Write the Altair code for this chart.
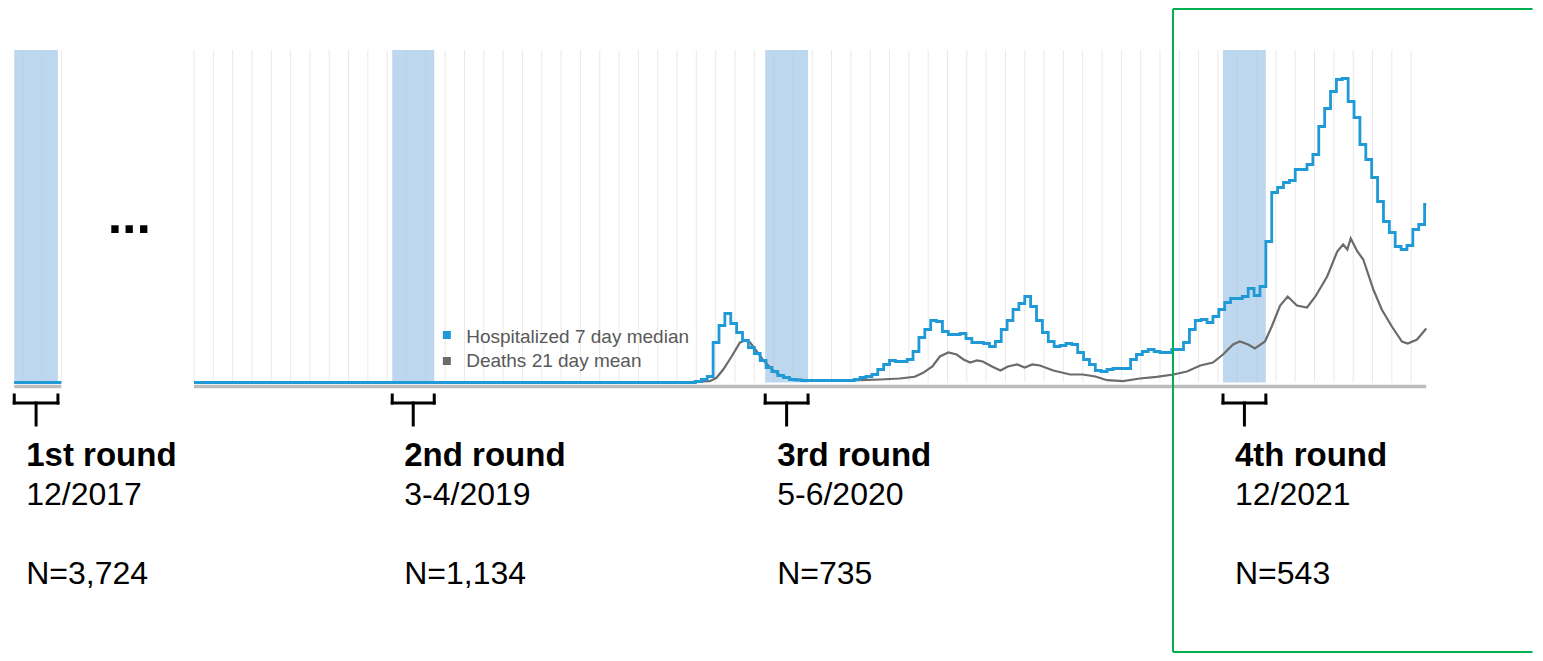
import altair as alt
import pandas as pd

# ---------------- data ----------------
# timeline position in days (main panel starts at day 0; the 2017 inset sits at negative days)
round_names = ["1st round", "2nd round", "3rd round", "4th round"]
round_dates = ["12/2017", "3-4/2019", "5-6/2020", "12/2021"]
round_n = ["N=3,724", "N=1,134", "N=735", "N=543"]
round_start = [-214, 236, 680, 1225]
round_end = [-162, 286, 731, 1276]

inset_grid = [-204, -181, -158]
main_grid = list(range(0, 1450, 23))

# hospitalized, 7 day median (weekly steps), index units
hosp_first_day = 597
hosp_end_day = 1467
hosp_values = [
    1, 3, 6, 40, 57, 69, 59, 50, 42, 35,
    29, 22, 15, 11, 7, 5, 3, 2.5, 2, 2,
    2, 2, 2, 2, 2, 2, 2, 3, 5, 6,
    8, 13, 18, 22, 21, 21, 23, 31, 45, 53,
    62, 61, 51, 48, 48, 49, 44, 40, 40, 39,
    36, 41, 53, 62, 73, 79, 86, 76, 62, 50,
    41, 36, 37, 39, 38, 30, 23, 18, 12, 11,
    13, 14, 14, 14, 23, 28, 31, 33, 31, 30,
    30, 33, 33, 40, 53, 62, 63, 60, 66, 73,
    80, 84, 84, 86, 94, 87, 96, 141, 190, 195,
    200, 202, 213, 213, 218, 228, 256, 274, 291, 303,
    304, 281, 265, 238, 223, 205, 181, 161, 150, 136,
    133, 137, 153, 158, 178,
]

# deaths, 21 day mean
deaths_days = [
    0, 590, 614, 622, 630, 640, 650, 656, 662, 670,
    677, 688, 698, 710, 730, 769, 793, 817, 840, 858,
    868, 879, 888, 898, 908, 916, 924, 932, 939, 950,
    960, 969, 980, 989, 998, 1007, 1023, 1043, 1058, 1073,
    1087, 1106, 1126, 1146, 1166, 1182, 1198, 1213, 1225, 1237,
    1245, 1255, 1263, 1275, 1283, 1293, 1302, 1313, 1325, 1335,
    1349, 1361, 1368, 1373, 1377, 1385, 1392, 1404, 1414, 1426,
    1438, 1445, 1456, 1467,
]
deaths_values = [
    0, 0.5, 1.3, 4.7, 13, 26, 40, 42, 40, 31,
    23, 13, 7, 3.7, 2, 1.7, 2.3, 3, 4, 5.7,
    9.7, 16, 26, 30, 28, 23, 20, 22, 21, 16,
    12, 16, 18, 15, 18, 17, 12, 8, 8, 6,
    2.3, 1.3, 4, 5.7, 8, 11, 17, 20, 28, 38,
    41, 38, 34, 41, 56, 77, 86, 77, 75, 86,
    106, 131, 138, 133, 144, 131, 123, 93, 73, 56,
    41, 39, 43, 54,
]

segment_start = [-214, 0]
segment_end = [-158, 1467]

legend_labels = ["Hospitalized 7 day median", "Deaths 21 day mean"]

# ---------------- styling constants ----------------
BLUE = "#1f9ad6"
GRAY = "#6b6b6b"
BAND = "#bdd7ee"
GREEN = "#00b050"
FONT = "Liberation Sans"
GRID_TOP = 332.5
X_MIN, X_MAX = -221.43, 1596.43
X = alt.Scale(domain=[X_MIN, X_MAX], nice=False, zero=False)
Y = alt.Scale(domain=[-270.5, 374.5], nice=False, zero=False)


def xq(field):
    return alt.X(field, type="quantitative", scale=X, axis=None)


def yq(field):
    return alt.Y(field, type="quantitative", scale=Y, axis=None)


# ---------------- tables ----------------
rounds_df = pd.DataFrame({
    "name": round_names, "date": round_dates, "n": round_n,
    "start": round_start, "end": round_end,
})
rounds_df["bottom"] = 0.0
rounds_df["top"] = GRID_TOP
rounds_df["y_name"] = -83.0
rounds_df["y_date"] = -122.0
rounds_df["y_n"] = -201.5

grid_df = pd.DataFrame({"day": inset_grid + main_grid})
grid_df["bottom"] = 0.0
grid_df["top"] = GRID_TOP

axis_df = pd.DataFrame({"start": segment_start, "end": segment_end})
axis_df["level"] = -4.0

hosp_rows = [("inset", -214, 0.0), ("inset", -158, 0.0), ("main", 0, 0.0)]
for i, v in enumerate(hosp_values):
    hosp_rows.append(("main", hosp_first_day + 7 * i, v))
hosp_rows.append(("main", hosp_end_day, hosp_values[-1]))
hosp_df = pd.DataFrame(hosp_rows, columns=["part", "day", "value"])

deaths_df = pd.DataFrame({"day": deaths_days, "value": deaths_values})
deaths_df["part"] = "main"
deaths_inset = pd.DataFrame({"day": [-214, -158], "value": [0.0, 0.0], "part": ["inset", "inset"]})
deaths_df = pd.concat([deaths_inset, deaths_df], ignore_index=True)

# bracket segments under each round band
br = []
for s, e in zip(round_start, round_end):
    m = (s + e) / 2
    br += [
        {"x": s, "x2": s, "y": -12.5, "y2": -20.5},
        {"x": e, "x2": e, "y": -12.5, "y2": -20.5},
        {"x": s, "x2": e, "y": -20.5, "y2": -20.5},
        {"x": m, "x2": m, "y": -20.5, "y2": -42.5},
    ]
bracket_df = pd.DataFrame(br)

legend_df = pd.DataFrame({
    "label": legend_labels, "color": [BLUE, GRAY],
    "day": [301.0, 301.0], "text_day": [324.0, 324.0],
    "sym_y": [47.5, 21.5], "text_y": [40.0, 16.0],
})

ellipsis_df = pd.DataFrame({"day": [-77.0], "y": [149.5], "t": ["..."]})

# highlight frame around the latest round (open on the right, running to the edge)
f_left, f_right, f_top, f_bottom = 1165.5, X_MAX - 3, 373.5, -269.5
focus_df = pd.DataFrame([
    {"x": f_left, "x2": f_right, "y": f_top, "y2": f_top},
    {"x": f_left, "x2": f_left, "y": f_top, "y2": f_bottom},
    {"x": f_left, "x2": f_right, "y": f_bottom, "y2": f_bottom},
])

# ---------------- layers ----------------
bands = alt.Chart(rounds_df).mark_rect(color=BAND).encode(
    x=xq("start"), x2="end", y=yq("bottom"), y2="top")

grid = alt.Chart(grid_df).mark_rule(color="#c4c4c4", opacity=0.38, strokeWidth=1).encode(
    x=xq("day"), y=yq("bottom"), y2="top")

axis_line = alt.Chart(axis_df).mark_rule(color="#bdbdbd", strokeWidth=3.5).encode(
    x=xq("start"), x2="end", y=yq("level"))

deaths = alt.Chart(deaths_df).mark_line(color=GRAY, strokeWidth=2.2, interpolate="linear").encode(
    x=xq("day"), y=yq("value"), detail="part:N")

hosp = alt.Chart(hosp_df).mark_line(color=BLUE, strokeWidth=2.8, interpolate="step-after").encode(
    x=xq("day"), y=yq("value"), detail="part:N")

legend_sym = alt.Chart(legend_df).mark_square(size=64, opacity=1).encode(
    x=xq("day"), y=yq("sym_y"), color=alt.Color("color:N", scale=None))

legend_txt = alt.Chart(legend_df).mark_text(
    align="left", baseline="alphabetic", font=FONT, fontSize=19, color="#595959").encode(
    x=xq("text_day"), y=yq("text_y"), text="label:N")

brackets = alt.Chart(bracket_df).mark_rule(color="#000000", strokeWidth=3, strokeCap="square").encode(
    x=xq("x"), x2="x2", y=yq("y"), y2="y2")

name_txt = alt.Chart(rounds_df).mark_text(
    align="left", baseline="alphabetic", dx=12, font=FONT, fontSize=33, fontWeight="bold",
    color="#000000").encode(x=xq("start"), y=yq("y_name"), text="name:N")

date_txt = alt.Chart(rounds_df).mark_text(
    align="left", baseline="alphabetic", dx=12, font=FONT, fontSize=32, color="#000000").encode(
    x=xq("start"), y=yq("y_date"), text="date:N")

n_txt = alt.Chart(rounds_df).mark_text(
    align="left", baseline="alphabetic", dx=12, font=FONT, fontSize=32, color="#000000").encode(
    x=xq("start"), y=yq("y_n"), text="n:N")

ellipsis = alt.Chart(ellipsis_df).mark_text(
    align="center", baseline="alphabetic", font=FONT, fontSize=52, fontWeight="bold",
    color="#000000").encode(x=xq("day"), y=yq("y"), text="t:N")

focus = alt.Chart(focus_df).mark_rule(color=GREEN, strokeWidth=2).encode(
    x=xq("x"), x2="x2", y=yq("y"), y2="y2")

chart = alt.layer(
    bands, grid, axis_line, deaths, hosp, legend_sym, legend_txt,
    brackets, name_txt, date_txt, n_txt, ellipsis, focus,
).properties(
    width=1527, height=645,
    autosize=alt.AutoSizeParams(type="none"), padding=0,
).configure_view(strokeWidth=0)

chart.save("out.html", embed_options={"renderer": "svg", "actions": False})
